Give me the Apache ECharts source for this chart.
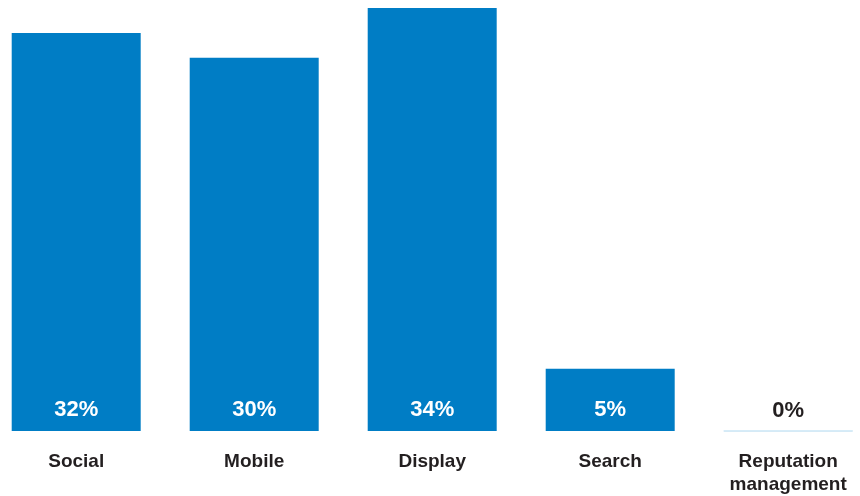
<!DOCTYPE html>
<html>
<head>
<meta charset="utf-8">
<script src="https://cdn.jsdelivr.net/npm/echarts@6/dist/echarts.min.js"></script>
<style>html,body{margin:0;padding:0;background:#fff}#c{width:860px;height:496px}</style>
</head>
<body>
<div id="c"></div>
<script>
const categories = ['Social', 'Mobile', 'Display', 'Search', 'Reputation\nmanagement'];
const values = [32, 30, 34, 5, 0];
const barColor = '#007DC5';
const textColor = '#231F20';

const chart = echarts.init(document.getElementById('c'));
chart.setOption({
  animation: false,
  grid: { left: -12.8, right: -17.2, top: 8, bottom: 65, containLabel: false, outerBoundsMode: 'none' },
  xAxis: {
    type: 'category',
    data: categories,
    axisLine: { show: false },
    axisTick: { show: false },
    axisLabel: {
      color: textColor,
      fontFamily: 'Liberation Sans, Arial, sans-serif',
      fontWeight: 'bold',
      fontSize: 19,
      lineHeight: 23,
      margin: 19,
      verticalAlign: 'top'
    }
  },
  yAxis: {
    type: 'value', min: 0, max: 34,
    show: false,
    splitLine: { show: false }
  },
  series: [{
    type: 'bar',
    barWidth: 129,
    data: values.map((v, i) => {
      const item = { value: v };
      if (v === 0) {
        item.itemStyle = { color: '#C8E4F4', borderColor: '#C8E4F4', borderWidth: 1 };
        item.label = { color: textColor };
      }
      return item;
    }),
    itemStyle: { color: barColor },
    label: {
      show: true,
      position: 'insideBottom',
      distance: 10,
      formatter: p => p.value + '%',
      color: '#fff',
      fontFamily: 'Liberation Sans, Arial, sans-serif',
      fontWeight: 'bold',
      fontSize: 22
    }
  }]
});
</script>
</body>
</html>
